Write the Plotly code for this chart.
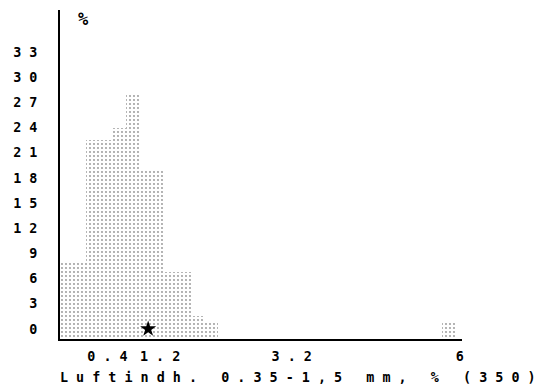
import plotly.graph_objects as go

# ---- data ----
BIN_START = [0.0, 0.2, 0.4, 0.6, 0.8, 1.0, 1.2, 1.4, 1.6, 1.8, 2.0, 2.2, 5.8]
BIN_WIDTH = 0.2
PERCENT = [8.0, 8.0, 22.5, 22.5, 24.0, 28.0, 19.0, 19.0, 6.8, 6.8, 1.5, 1.0, 1.0]
MEAN_X = 1.34
MEAN_Y = 0
Y_TICKS = [0, 3, 6, 9, 12, 15, 18, 21, 24, 27, 30, 33]
X_TICKS = [0.4, 1.2, 3.2, 6]
TITLE = "Luftindh. 0.35-1,5 mm, % (350)"
UNIT = "%"

Y_FLOOR = -1.2
Y_TOP = 38.0
X_MAX = 6.11


def spaced(s):
    return " ".join(list(s))


FONT = dict(family="DejaVu Sans Mono", size=13.4, color="black", weight="bold")

fig = go.Figure()
fig.add_trace(go.Bar(
    x=BIN_START,
    y=[p - Y_FLOOR for p in PERCENT],
    base=Y_FLOOR,
    width=BIN_WIDTH,
    offset=0,
    marker=dict(
        color="white",
        line=dict(width=0),
        pattern=dict(shape=".", fgcolor="#222", bgcolor="white", size=4, solidity=0.16),
    ),
    showlegend=False,
))
fig.add_trace(go.Scatter(
    x=[MEAN_X], y=[MEAN_Y], mode="markers",
    marker=dict(symbol="star", size=12, color="black"),
    showlegend=False,
))

fig.update_layout(
    width=541, height=389,
    margin=dict(l=60, r=79, t=10, b=50),
    paper_bgcolor="white", plot_bgcolor="white",
    bargap=0,
    xaxis=dict(
        range=[0, X_MAX], showgrid=False, zeroline=False, automargin=False,
        showline=True, linecolor="black", linewidth=2,
        tickvals=X_TICKS, ticktext=[spaced(str(t)) for t in X_TICKS],
        ticks="", ticklabelposition="outside right", ticklabelstandoff=4,
        tickfont=FONT,
    ),
    yaxis=dict(
        range=[Y_FLOOR, Y_TOP], showgrid=False, zeroline=False, automargin=False,
        showline=True, linecolor="black", linewidth=2,
        tickvals=Y_TICKS, ticktext=[spaced(str(t)) for t in Y_TICKS],
        ticks="", ticklabelstandoff=18,
        tickfont=FONT,
    ),
    annotations=[
        dict(text=spaced(TITLE), xref="paper", yref="paper", x=0, y=0,
             xanchor="left", yanchor="middle", xshift=-2, yshift=-38,
             showarrow=False, font=FONT),
        dict(text=UNIT, xref="paper", yref="paper", x=0, y=1,
             xanchor="left", yanchor="middle", xshift=16, yshift=-9,
             showarrow=False,
             font=dict(family="DejaVu Sans Mono", size=17, color="black", weight="bold")),
    ],
)

fig.write_html(
    "out.html",
    config={"displayModeBar": False},
    post_script="document.body.style.margin='0';document.body.style.overflow='hidden';",
)
